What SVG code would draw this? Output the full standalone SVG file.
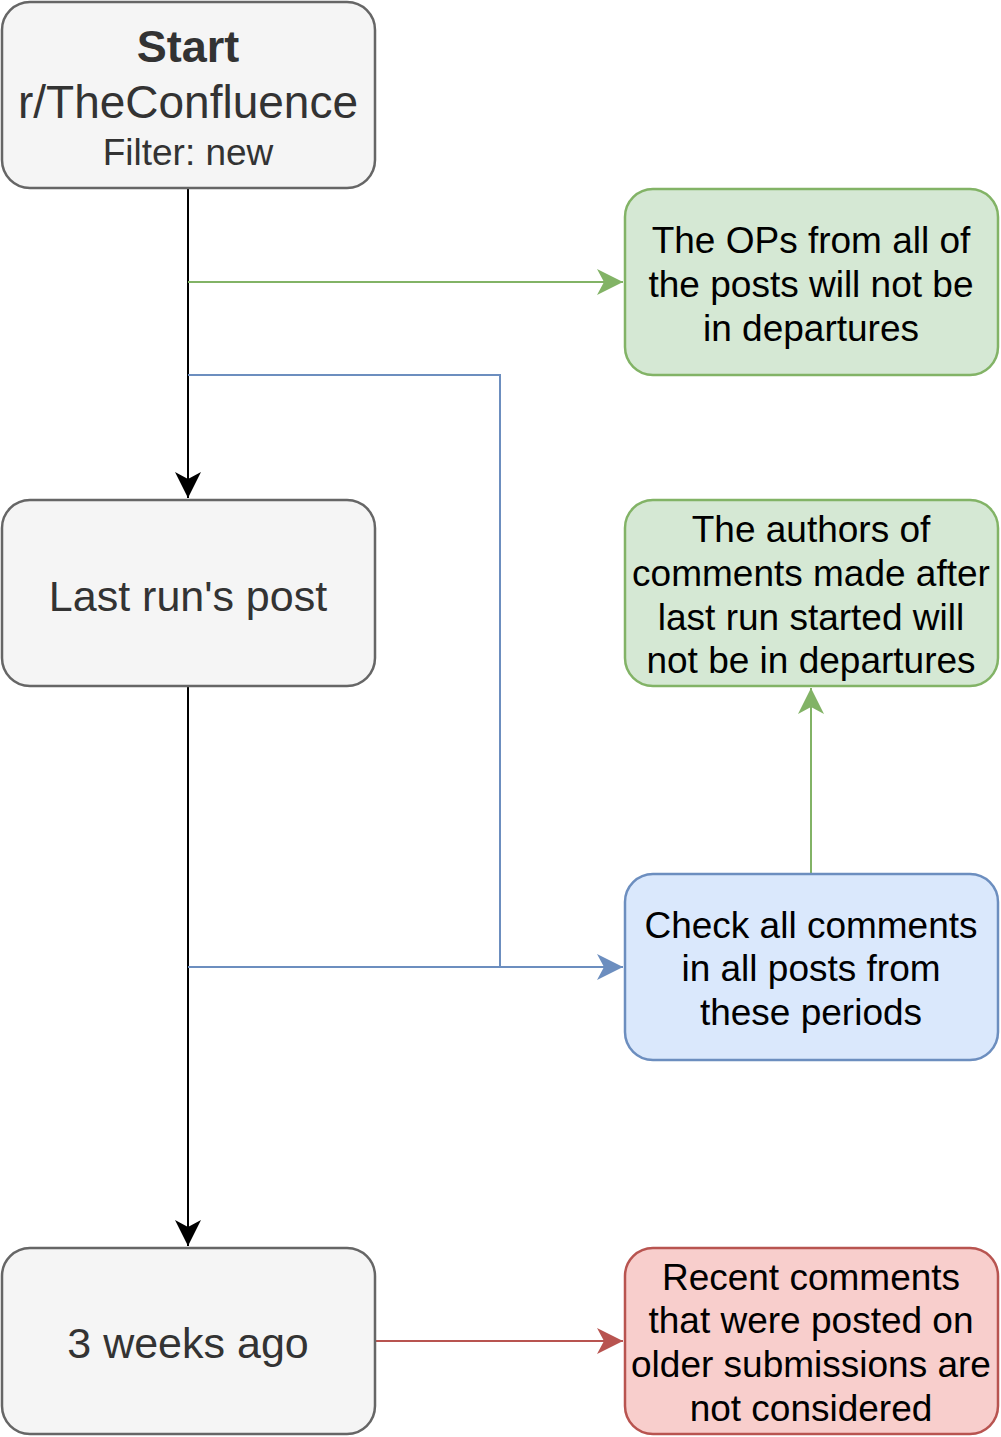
<svg xmlns="http://www.w3.org/2000/svg" width="1001" height="1437" viewBox="0 0 1001 1437">
<style>
.grey{fill:#f5f5f5;stroke:#666666;stroke-width:2.5}
.green{fill:#d5e8d4;stroke:#82b366;stroke-width:2.5}
.blue{fill:#dae8fc;stroke:#6c8ebf;stroke-width:2.5}
.red{fill:#f8cecc;stroke:#b85450;stroke-width:2.5}
text{font-family:"Liberation Sans",Arial,Helvetica,sans-serif;text-anchor:middle}
.gt{fill:#333333}
.bt{fill:#000000;font-size:37px}
.e{fill:none;stroke-width:2}
</style>
<defs>
<marker id="aBlack" markerUnits="userSpaceOnUse" markerWidth="30" markerHeight="30" viewBox="-28 -15 30 30" refX="0" refY="0" orient="auto"><path d="M0,0 L-26,-13 L-19,0 L-26,13 Z" fill="#000000"/></marker>
<marker id="aGreen" markerUnits="userSpaceOnUse" markerWidth="30" markerHeight="30" viewBox="-28 -15 30 30" refX="0" refY="0" orient="auto"><path d="M0,0 L-26,-13 L-19,0 L-26,13 Z" fill="#82b366"/></marker>
<marker id="aBlue" markerUnits="userSpaceOnUse" markerWidth="30" markerHeight="30" viewBox="-28 -15 30 30" refX="0" refY="0" orient="auto"><path d="M0,0 L-26,-13 L-19,0 L-26,13 Z" fill="#6c8ebf"/></marker>
<marker id="aRed" markerUnits="userSpaceOnUse" markerWidth="30" markerHeight="30" viewBox="-28 -15 30 30" refX="0" refY="0" orient="auto"><path d="M0,0 L-26,-13 L-19,0 L-26,13 Z" fill="#b85450"/></marker>
</defs>
<g id="connectors">
<path class="e" d="M188,188 L188,498" stroke="#000000" marker-end="url(#aBlack)"/>
<path class="e" d="M188,686 L188,1246" stroke="#000000" marker-end="url(#aBlack)"/>
<path class="e" d="M188,282 L623,282" stroke="#82b366" marker-end="url(#aGreen)"/>
<path class="e" d="M188,375 L500,375 L500,967" stroke="#6c8ebf"/>
<path class="e" d="M188,967 L623,967" stroke="#6c8ebf" marker-end="url(#aBlue)"/>
<path class="e" d="M811,874 L811,688" stroke="#82b366" marker-end="url(#aGreen)"/>
<path class="e" d="M375,1341 L623,1341" stroke="#b85450" marker-end="url(#aRed)"/>
</g>
<g id="start">
<rect class="grey" x="2" y="2" width="373" height="186" rx="28"/>
<text class="gt" x="188" y="62" font-size="45" font-weight="bold">Start</text>
<text class="gt" x="188" y="118" font-size="46">r/TheConfluence</text>
<text class="gt" x="188" y="165" font-size="37">Filter: new</text>
</g>
<g id="lastrun">
<rect class="grey" x="2" y="500" width="373" height="186" rx="28"/>
<text class="gt" x="188" y="611" font-size="43">Last run's post</text>
</g>
<g id="weeks">
<rect class="grey" x="2" y="1248" width="373" height="186" rx="28"/>
<text class="gt" x="188" y="1358" font-size="43">3 weeks ago</text>
</g>
<g id="ops">
<rect class="green" x="625" y="189" width="373" height="186" rx="28"/>
<text class="bt" x="811" y="253">The OPs from all of</text>
<text class="bt" x="811" y="297">the posts will not be</text>
<text class="bt" x="811" y="341">in departures</text>
</g>
<g id="authors">
<rect class="green" x="625" y="500" width="373" height="186" rx="28"/>
<text class="bt" x="811" y="542">The authors of</text>
<text class="bt" x="811" y="586">comments made after</text>
<text class="bt" x="811" y="630">last run started will</text>
<text class="bt" x="811" y="673">not be in departures</text>
</g>
<g id="check">
<rect class="blue" x="625" y="874" width="373" height="186" rx="28"/>
<text class="bt" x="811" y="938">Check all comments</text>
<text class="bt" x="811" y="981">in all posts from</text>
<text class="bt" x="811" y="1025">these periods</text>
</g>
<g id="recent">
<rect class="red" x="625" y="1248" width="373" height="186" rx="28"/>
<text class="bt" x="811" y="1290">Recent comments</text>
<text class="bt" x="811" y="1333">that were posted on</text>
<text class="bt" x="811" y="1377">older submissions are</text>
<text class="bt" x="811" y="1421">not considered</text>
</g>
</svg>
